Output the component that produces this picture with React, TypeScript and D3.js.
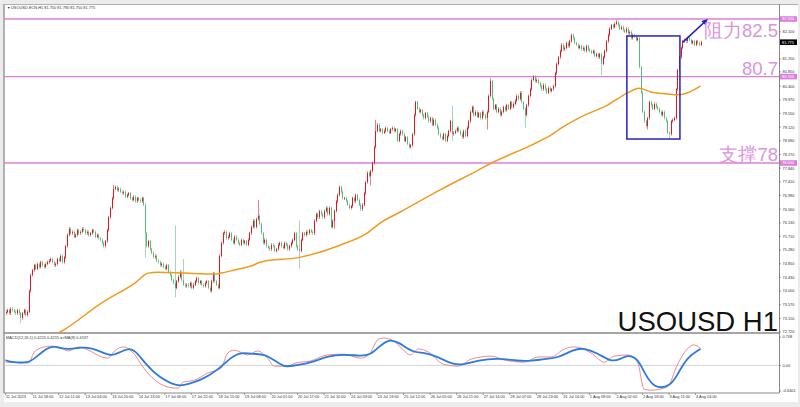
import React from 'react';
import * as d3 from 'd3';

// ---- DATA ----
const firstOpen = 73.3;
const closes: number[] = [
  73.35, 73.4, 73.3, 73.45, 73.4, 73.35, 73.3, 73.4, 73.3, 73.15, 73.3, 73.4, 73.25, 73.35,
  74.0, 74.5, 74.65,
  74.8, 74.7, 74.85, 74.75, 74.9, 74.8, 74.75, 74.85, 74.9,
  74.95, 75.0, 74.9, 74.8, 74.85, 75.0, 74.95, 75.1, 74.9, 75.05,
  75.4, 75.75, 75.95,
  75.8, 75.85, 75.7, 75.75, 75.9, 75.8, 75.85, 75.95, 75.9, 75.8, 75.85, 75.75, 75.8, 75.9, 75.85, 75.7, 75.75, 75.65, 75.6,
  75.5, 75.4, 75.55,
  75.9, 76.3, 76.6, 76.9,
  77.2, 77.25,
  77.15, 77.2, 77.1, 77.05, 77.1, 76.95, 77.0, 77.05, 76.9, 76.85, 76.95, 76.8, 76.9, 76.85,
  76.8, 76.9, 76.7,
  75.8, 75.4, 75.55,
  75.3, 75.2, 75.05, 75.1, 74.95, 74.9,
  74.8, 74.85, 74.75, 74.7, 74.8, 74.6, 74.5, 74.35, 74.25,
  74.1, 74.3, 74.45, 74.6, 74.35, 74.2, 74.15,
  74.2, 74.15, 74.25, 74.1, 74.2, 74.3, 74.4, 74.25, 74.3, 74.2, 74.15, 74.25,
  74.3, 74.1, 74.0, 74.3, 74.55, 74.3, 74.2, 74.1,
  75.1, 75.5, 75.8,
  75.85, 75.65, 75.7, 75.8, 75.6, 75.5, 75.7, 75.6, 75.5,
  75.45, 75.6, 75.5, 75.55, 75.45, 75.6,
  75.8, 76.0, 76.2, 76.0, 76.25, 76.35,
  76.1, 75.8, 75.5, 75.6, 75.4,
  75.35, 75.3, 75.45, 75.4, 75.25, 75.3, 75.45, 75.5, 75.4, 75.35, 75.5, 75.45, 75.3, 75.4,
  75.5, 75.6, 75.8, 75.4, 75.3, 75.25,
  75.6, 75.8, 75.75, 75.85, 75.8, 75.9, 75.85, 75.8,
  76.2, 76.4, 76.3, 76.5, 76.4, 76.3, 76.5, 76.6, 76.4,
  76.6, 76.0, 76.2, 76.5, 76.8,
  77.0, 77.25, 77.1, 76.9,
  76.9, 76.8, 76.7, 76.6, 76.65,
  76.9, 76.8, 77.0, 76.85, 76.7, 76.55, 76.7,
  77.05, 77.4,
  77.7, 77.6, 77.75, 78.0,
  78.5, 79.0, 79.2,
  79.0, 79.05, 78.95, 79.0, 79.1, 79.0, 78.95, 79.05, 79.1, 79.0, 79.05, 78.7, 78.9, 79.0,
  78.9, 78.7, 78.8, 78.6, 78.5, 78.55,
  78.9, 79.5, 79.9,
  79.7, 79.6, 79.65, 79.5, 79.4, 79.55, 79.45, 79.3, 79.4, 79.2, 79.35, 79.2,
  79.1, 78.9, 78.8, 78.75, 78.9, 78.7, 78.85,
  79.0, 79.3, 78.9, 78.95, 79.0, 79.1,
  79.0, 78.9, 78.8, 79.0, 78.85, 79.1, 79.3,
  79.6, 79.75, 79.5, 79.6,
  79.45, 79.55, 79.4, 79.6, 79.5, 79.4, 79.6,
  80.1, 80.55, 80.0, 79.7,
  79.8, 79.6, 79.7, 79.5, 79.6, 79.75, 79.65,
  79.8, 79.7, 79.9, 79.75, 79.85, 79.95,
  80.1, 80.0, 80.2, 79.9, 79.7,
  79.5, 79.8, 80.1, 80.3,
  80.6, 80.7, 80.55, 80.6,
  80.5, 80.4, 80.3, 80.45, 80.3, 80.2, 80.35, 80.25, 80.3, 80.4,
  80.8, 81.1, 81.3,
  81.5, 81.7, 81.55, 81.6, 81.75, 81.65, 81.8,
  82.0, 81.9,
  81.75, 81.7, 81.6, 81.65, 81.55, 81.6, 81.5, 81.65, 81.55, 81.5,
  81.45, 81.5, 81.35, 81.4, 81.3, 81.4,
  81.1, 81.3, 81.5,
  81.8, 82.0, 82.2, 82.3, 82.25,
  82.35, 82.4, 82.3, 82.2, 82.25,
  82.15, 82.1, 82.2, 82.05, 82.1, 81.9, 82.0,
  81.95, 81.85, 81.9,
  81.0,
  80.2, 79.6, 79.3,
  79.15, 79.4,
  79.9,
  79.8, 79.7, 79.85, 79.75, 79.7, 79.6,
  79.5, 79.6, 79.4, 79.3, 78.95, 78.9,
  79.3, 79.35, 79.4,
  80.3, 80.9, 81.3,
  81.6, 81.8,
  81.85, 81.8, 81.9, 81.85, 81.75, 81.8, 81.7, 81.8, 81.75, 81.7, 81.775,
];

// long wicks
const spikeIdx = [9, 65, 84, 102, 107, 152, 177, 198, 220, 223, 269, 290, 292, 313, 359, 368, 387, 400];
const spikeHigh = [NaN, 77.32, NaN, 76.05, 75.0, 76.85, 76.2, NaN, NaN, 79.35, 79.8, NaN, 80.65, NaN, NaN, 82.47, NaN, NaN];
const spikeLow = [73.0, NaN, 75.05, 73.8, NaN, NaN, 74.7, 75.95, 77.3, NaN, 78.7, 79.05, NaN, 79.1, 80.75, NaN, 79.05, 78.75];

// moving average samples (bar index, value)
const maIdx = [27, 35, 58, 78, 86, 92, 108, 126, 130, 138, 148, 154, 178, 202, 218, 226, 238, 262, 285, 293, 317, 329, 335, 347, 363, 375, 382, 389, 399, 405, 411, 419];
const maVal = [72.55, 72.78, 73.63, 74.25, 74.56, 74.59, 74.56, 74.53, 74.56, 74.66, 74.78, 74.91, 75.06, 75.44, 75.81, 76.13, 76.47, 77.16, 77.78, 78.0, 78.56, 78.88, 79.09, 79.44, 79.81, 80.19, 80.34, 80.22, 80.16, 80.13, 80.19, 80.4];

// MACD (thin red) samples
const macdIdx = [0, 14, 17, 21, 27, 32, 38, 44, 50, 58, 62, 65, 71, 78, 82, 88, 98, 104, 107, 114, 122, 130, 134, 138, 146, 152, 158, 162, 170, 175, 184, 194, 204, 214, 219, 225, 228, 234, 240, 244, 249, 255, 264, 273, 281, 293, 301, 313, 321, 329, 337, 343, 353, 361, 367, 375, 381, 385, 389, 399, 405, 411, 415, 419];
const macdVal = [0.08, 0.06, 0.31, 0.43, 0.48, 0.46, 0.36, 0.46, 0.38, 0.21, 0.18, 0.33, 0.46, 0.26, 0.01, -0.29, -0.54, -0.57, -0.42, -0.37, -0.19, -0.07, 0.31, 0.38, 0.26, 0.36, 0.18, -0.02, -0.02, 0.06, 0.11, 0.26, 0.28, 0.18, 0.26, 0.66, 0.68, 0.61, 0.38, 0.26, 0.41, 0.33, 0.03, -0.02, 0.16, 0.23, 0.13, 0.08, 0.21, 0.21, 0.41, 0.46, 0.31, 0.08, 0.23, 0.26, 0.08, -0.59, -0.62, -0.54, 0.01, 0.41, 0.51, 0.42];

// signal MA(9) (thick blue) samples
const sigIdx = [0, 3, 14, 17, 26, 29, 38, 46, 52, 58, 64, 68, 74, 78, 84, 92, 104, 110, 118, 128, 136, 142, 150, 156, 162, 168, 172, 184, 194, 204, 214, 220, 225, 231, 237, 246, 252, 261, 269, 276, 285, 297, 309, 317, 325, 333, 343, 349, 357, 365, 371, 375, 381, 385, 391, 401, 405, 411, 419];
const sigVal = [0.13, 0.08, 0.06, 0.16, 0.46, 0.48, 0.38, 0.46, 0.43, 0.33, 0.23, 0.31, 0.43, 0.38, 0.06, -0.29, -0.54, -0.47, -0.37, -0.12, 0.21, 0.33, 0.28, 0.28, 0.13, -0.04, -0.02, 0.06, 0.23, 0.28, 0.23, 0.26, 0.46, 0.66, 0.58, 0.31, 0.33, 0.21, 0.03, 0.01, 0.13, 0.18, 0.11, 0.11, 0.16, 0.18, 0.41, 0.43, 0.31, 0.08, 0.16, 0.26, 0.18, -0.17, -0.59, -0.52, -0.24, 0.21, 0.41];

const timeLabels = ['11 Jul 2023', '11 Jul 18:00', '12 Jul 11:00', '13 Jul 04:00', '13 Jul 20:00', '14 Jul 13:00', '17 Jul 06:00', '17 Jul 22:00', '18 Jul 15:00', '19 Jul 08:00', '20 Jul 01:00', '20 Jul 17:00', '21 Jul 10:00', '24 Jul 03:00', '24 Jul 19:00', '25 Jul 12:00', '26 Jul 05:00', '26 Jul 21:00', '27 Jul 14:00', '28 Jul 07:00', '28 Jul 23:00', '31 Jul 16:00', '1 Aug 09:00', '2 Aug 02:00', '2 Aug 18:00', '3 Aug 11:00', '4 Aug 04:00'];
const labelEvery = 16;

const priceTicks = [82.1, 81.25, 80.85, 80.4, 79.97, 79.55, 79.12, 78.69, 78.27, 77.84, 77.41, 76.99, 76.56, 76.13, 75.71, 75.28, 74.85, 74.43, 74.0, 73.57, 73.15, 72.72];
const levels = [82.5, 80.7, 78.0];
const levelTexts = ['阻力82.5', '80.7', '支撑78'];
const levelTextBelow = [true, false, false];
const lastPrice = 81.775;
const macdTicks = [0.708, 0.0, -0.6401];
const macdTickText = ['0.708', '0.00', '-0.6401'];

// annotation box (bar index range, price range) and arrow
const boxBars = [374.6, 406.6];
const boxPrices = [81.97, 78.75];
const arrowBars = [408.4, 423.4];
const arrowPrices = [81.78, 82.5];

const title = 'USOUSD-ECN,H1  81.750 81.790 81.750 81.775';
const macdTitle = 'MACD(12,26,1) 0.4215 0.4215  =>MA(9) 0.4137';
const bigLabel = 'USOUSD H1';

export default function App() {
  const W = 800, H = 407;
  const L = 4, R = 779, mainTop = 10, mainBot = 333, subTop = 334, subBot = 393;
  const x = d3.scaleLinear().domain([0, 419]).range([5.5, 700.5]);
  const y = d3.scaleLinear().domain([72.72, 82.5]).range([332, 19]);
  const ym = d3.scaleLinear().domain([-0.6401, 0.708]).range([391, 337]);

  const UP = '#e3151d', DN = '#54b97a';
  const small = { fontFamily: 'Liberation Sans, Arial, sans-serif', fontSize: 3.9, fill: '#333' } as const;

  const candles = closes.map((c, i) => {
    const o = i === 0 ? firstOpen : closes[i - 1];
    const X = Math.round(x(i)) + 0.5;
    const yO = y(o), yC = y(c);
    const top = Math.min(yO, yC), bot = Math.max(yO, yC);
    const k = spikeIdx.indexOf(i);
    let wt = top - 1.5, wb = bot + 1.5;
    if (k >= 0) {
      if (!isNaN(spikeHigh[k])) wt = Math.min(wt, y(spikeHigh[k]));
      if (!isNaN(spikeLow[k])) wb = Math.max(wb, y(spikeLow[k]));
    }
    const col = c >= o ? UP : DN;
    return (
      <g key={i}>
        <line x1={X} x2={X} y1={wt} y2={wb} stroke={col} strokeOpacity={0.55} strokeWidth={1} />
        <rect x={X - 0.5} y={top} width={1} height={Math.max(1, bot - top)} fill={col} shapeRendering="crispEdges" />
      </g>
    );
  });

  const maLine = d3.line<number>().x((d, i) => x(maIdx[i])).y((d) => y(d)).curve(d3.curveMonotoneX)(maVal) || '';
  const macdLine = d3.line<number>().x((d, i) => x(macdIdx[i])).y((d) => ym(d)).curve(d3.curveMonotoneX)(macdVal) || '';
  const sigLine = d3.line<number>().x((d, i) => x(sigIdx[i])).y((d) => ym(d)).curve(d3.curveBasis)(sigVal) || '';

  const LEVEL = '#dc7fdc';
  const LEVEL_TXT = '#d896d8';

  const bx0 = x(boxBars[0]), bx1 = x(boxBars[1]), by0 = y(boxPrices[0]), by1 = y(boxPrices[1]);
  const ax0 = x(arrowBars[0]), ax1 = x(arrowBars[1]), ay0 = y(arrowPrices[0]), ay1 = y(arrowPrices[1]);
  const ang = Math.atan2(ay1 - ay0, ax1 - ax0);
  const ah = 6, aw = 3;
  const arrowHead = [
    [ax1, ay1],
    [ax1 - ah * Math.cos(ang) + aw * Math.sin(ang), ay1 - ah * Math.sin(ang) - aw * Math.cos(ang)],
    [ax1 - ah * Math.cos(ang) - aw * Math.sin(ang), ay1 - ah * Math.sin(ang) + aw * Math.cos(ang)],
  ].map((p) => p.join(',')).join(' ');

  return (
    <svg width={W} height={H} style={{ position: 'fixed', left: 0, top: 0 }}>
      <defs>
        <clipPath id="mainClip"><rect x={L} y={mainTop} width={R - L} height={mainBot - mainTop} /></clipPath>
        <clipPath id="subClip"><rect x={L} y={subTop} width={R - L} height={subBot - subTop} /></clipPath>
      </defs>
      <rect x={0} y={0} width={W} height={H} fill="#ececec" />
      <rect x={L} y={4} width={798 - L} height={398} fill="#ffffff" />
      {/* frame lines */}
      <line x1={L} x2={L} y1={4} y2={subBot} stroke="#9a9a9a" strokeWidth={1.5} />
      <line x1={L} x2={798} y1={4.5} y2={4.5} stroke="#b0b0b0" strokeWidth={1} />
      <line x1={R + 0.5} x2={R + 0.5} y1={4} y2={subBot} stroke="#888" strokeWidth={1} />
      <line x1={L} x2={R} y1={mainBot} y2={mainBot} stroke="#888" strokeWidth={1.5} />
      <line x1={L} x2={R} y1={subBot} y2={subBot} stroke="#888" strokeWidth={1} />

      {/* main panel */}
      <g clipPath="url(#mainClip)">
        {levels.map((lv) => (
          <line key={lv} x1={L} x2={R} y1={y(lv)} y2={y(lv)} stroke={LEVEL} strokeWidth={1.3} />
        ))}
        {candles}
        <path d={maLine} fill="none" stroke="#f29a1c" strokeWidth={1.5} />
        <rect x={bx0} y={by0} width={bx1 - bx0} height={by1 - by0} fill="none" stroke="#2424c0" strokeWidth={1.5} />
        <line x1={ax0} y1={ay0} x2={ax1 - 4 * Math.cos(ang)} y2={ay1 - 4 * Math.sin(ang)} stroke="#1c1cc8" strokeWidth={1.6} />
        <polygon points={arrowHead} fill="#1c1cc8" />
      </g>
      {levelTexts.map((t, i) => (
        <text key={t} x={R - 1} y={levelTextBelow[i] ? y(levels[i]) + 18 : y(levels[i]) - 2} textAnchor="end" fontFamily="Liberation Sans, Arial, sans-serif" fontSize={18.5} fill={LEVEL_TXT}>{t}</text>
      ))}
      <text x={R - 1} y={mainBot - 2} textAnchor="end" fontFamily="Liberation Sans, Arial, sans-serif" fontSize={27.5} fill="#111">{bigLabel}</text>

      <text x={7} y={8.5} style={{ ...small, fontSize: 3.5 }}>▼</text>
      <text x={11} y={8.5} style={small}>{title}</text>

      {/* price axis */}
      {priceTicks.map((p) => (
        <g key={p}>
          <line x1={R} x2={R + 2} y1={y(p)} y2={y(p)} stroke="#666" strokeWidth={0.6} />
          <text x={R + 3.5} y={y(p) + 1.4} style={small}>{p.toFixed(3)}</text>
        </g>
      ))}
      {levels.map((lv) => (
        <g key={'l' + lv}>
          <rect x={R + 1} y={y(lv) - 2.8} width={17} height={5.6} fill={LEVEL} />
          <text x={R + 3} y={y(lv) + 1.4} style={{ ...small, fill: '#fff' }}>{lv.toFixed(3)}</text>
        </g>
      ))}
      <rect x={R + 1} y={y(lastPrice) - 2.8} width={17} height={5.6} fill="#000" />
      <text x={R + 3} y={y(lastPrice) + 1.4} style={{ ...small, fill: '#fff' }}>{lastPrice.toFixed(3)}</text>

      {/* MACD panel */}
      <line x1={L} x2={R} y1={ym(0)} y2={ym(0)} stroke="#c8c8c8" strokeWidth={0.8} />
      <g clipPath="url(#subClip)">
        <path d={macdLine} fill="none" stroke="#f07a7a" strokeWidth={0.9} />
        <path d={sigLine} fill="none" stroke="#2b7be0" strokeWidth={1.8} />
      </g>
      <text x={6} y={339} style={small}>{macdTitle}</text>
      {macdTicks.map((v, i) => (
        <g key={v}>
          <line x1={R} x2={R + 2} y1={ym(v)} y2={ym(v)} stroke="#666" strokeWidth={0.6} />
          <text x={R + 3.5} y={ym(v) + 1.4} style={small}>{macdTickText[i]}</text>
        </g>
      ))}

      {/* time axis */}
      {timeLabels.map((t, k) => {
        const X = x(k * labelEvery);
        return (
          <g key={t}>
            <line x1={X} x2={X} y1={subBot} y2={subBot + 2} stroke="#666" strokeWidth={0.6} />
            <text x={X + 0.5} y={398} style={small}>{t}</text>
          </g>
        );
      })}
    </svg>
  );
}
